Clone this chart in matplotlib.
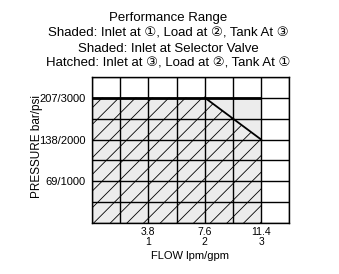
import matplotlib
matplotlib.use("Agg")
import matplotlib.pyplot as plt
from matplotlib.patches import Polygon, Rectangle

plt.rcParams['font.family'] = ['Liberation Sans', 'DejaVu Sans']
plt.rcParams['hatch.linewidth'] = 0.6

# data
x_max_gpm = 3.5
y_max_psi = 3500
grid_step_x = 0.5
grid_step_y = 500
xtick_gpm = [1, 2, 3]
xtick_lpm = ["3.8", "7.6", "11.4"]
ytick_psi = [1000, 2000, 3000]
ytick_labels = ["69/1000", "138/2000", "207/3000"]
shaded_flow = [0, 3]
shaded_pressure = 3000
hatched_flow = [0, 0, 2, 3, 3]
hatched_pressure = [0, 3000, 3000, 2000, 0]
title_lines = ["Performance Range",
               "Shaded: Inlet at \u2460, Load at \u2461, Tank At \u2462",
               "Shaded: Inlet at Selector Valve",
               "Hatched: Inlet at \u2462, Load at \u2461, Tank At \u2460"]

fig = plt.figure(figsize=(3.39, 2.74), dpi=100)
ax = fig.add_axes([92/339, 1-223.3/274, (289.3-92)/339, (223.3-76.7)/274])
ax.set_xlim(0, x_max_gpm)
ax.set_ylim(0, y_max_psi)

# shaded
ax.add_patch(Rectangle((shaded_flow[0], 0), shaded_flow[1]-shaded_flow[0], shaded_pressure,
                       facecolor='#ececec', edgecolor='none', zorder=1))
# hatched
ax.add_patch(Polygon(list(zip(hatched_flow, hatched_pressure)), closed=True,
                     facecolor='none', edgecolor='black', hatch='//', linewidth=0, zorder=2))

# grid
xs = [i*grid_step_x for i in range(int(x_max_gpm/grid_step_x)+1)]
ys = [i*grid_step_y for i in range(int(y_max_psi/grid_step_y)+1)]
for xv in xs:
    ax.axvline(xv, color='black', lw=1.0, zorder=3)
for yv in ys:
    ax.axhline(yv, color='black', lw=1.0, zorder=3)

# boundary lines
ax.plot(shaded_flow, [shaded_pressure, shaded_pressure], color='black', lw=2.0, zorder=4, solid_capstyle='butt')
ax.plot(hatched_flow[2:4], hatched_pressure[2:4], color='black', lw=1.3, zorder=4)

for s in ax.spines.values():
    s.set_linewidth(1.0)

ax.set_xticks(xtick_gpm)
ax.set_xticklabels([f"{l}\n{g}" for l, g in zip(xtick_lpm, xtick_gpm)], fontsize=7.5, linespacing=0.95)
ax.set_yticks(ytick_psi)
ax.set_yticklabels(ytick_labels, fontsize=8)
ax.tick_params(length=0)
ax.tick_params(axis='y', pad=4.5)
ax.tick_params(axis='x', pad=3)

ax.set_xlabel("FLOW lpm/gpm", fontsize=8)
ax.xaxis.set_label_coords((190-92)/197.3, -(256-223.3)/146.6)
ax.xaxis.label.set_va('center')
ax.set_ylabel("PRESSURE bar/psi", fontsize=8.5)
ax.yaxis.set_label_coords((37-92)/197.3, (223.3-146.5)/146.6)
ax.yaxis.label.set_va('center')

for i, t in enumerate(title_lines):
    fig.text(168/339, 1-(18.5+15*i)/274, t, ha='center', va='center', fontsize=9.5)

fig.savefig("out.png", dpi=100)
